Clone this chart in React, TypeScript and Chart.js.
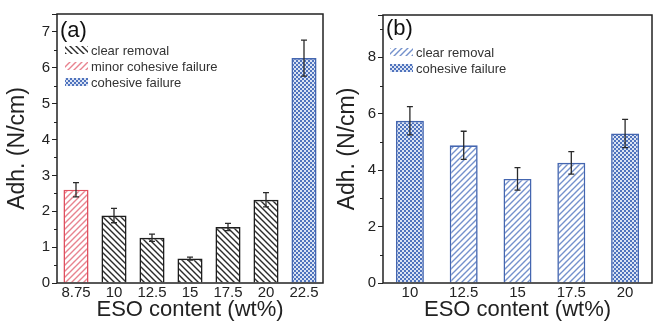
import React, { useEffect, useRef } from "react";
import { Chart, registerables } from "chart.js";

Chart.register(...registerables);

// ---------- data ----------
const catsA = ["8.75", "10", "12.5", "15", "17.5", "20", "22.5"];
const valsA = [2.6, 1.88, 1.26, 0.68, 1.56, 2.32, 6.27];
const errA = [0.2, 0.2, 0.1, 0.04, 0.1, 0.2, 0.5];
const typeA = ["minor", "clear", "clear", "clear", "clear", "clear", "cohesive"];

const catsB = ["10", "12.5", "15", "17.5", "20"];
const valsB = [5.75, 4.88, 3.69, 4.26, 5.3];
const errB = [0.5, 0.5, 0.4, 0.4, 0.5];
const typeB = ["cohesive", "clear", "clear", "clear", "cohesive"];

const legendA = [
  { key: "clear", label: "clear removal" },
  { key: "minor", label: "minor cohesive failure" },
  { key: "cohesive", label: "cohesive failure" },
];
const legendB = [
  { key: "clear", label: "clear removal" },
  { key: "cohesive", label: "cohesive failure" },
];

const FONT = "'Liberation Sans', Arial, sans-serif";

// ---------- patterns ----------
function hatch(color: string, dir: "/" | "\\", size = 6, lw = 1.4) {
  const c = document.createElement("canvas");
  c.width = c.height = size;
  const g = c.getContext("2d")!;
  g.fillStyle = "#ffffff";
  g.fillRect(0, 0, size, size);
  g.strokeStyle = color;
  g.lineWidth = lw;
  g.beginPath();
  if (dir === "/") {
    g.moveTo(0, size); g.lineTo(size, 0);
    g.moveTo(-1, 1); g.lineTo(1, -1);
    g.moveTo(size - 1, size + 1); g.lineTo(size + 1, size - 1);
  } else {
    g.moveTo(0, 0); g.lineTo(size, size);
    g.moveTo(-1, size - 1); g.lineTo(1, size + 1);
    g.moveTo(size - 1, -1); g.lineTo(size + 1, 1);
  }
  g.stroke();
  return g.createPattern(c, "repeat")!;
}
function checker(fg: string, bg: string, cell = 2) {
  const c = document.createElement("canvas");
  c.width = c.height = cell * 2;
  const g = c.getContext("2d")!;
  g.fillStyle = bg;
  g.fillRect(0, 0, cell * 2, cell * 2);
  g.fillStyle = fg;
  g.fillRect(0, 0, cell, cell);
  g.fillRect(cell, cell, cell, cell);
  return g.createPattern(c, "repeat")!;
}

type Style = { fill: CanvasPattern; border: string };

function makeChart(
  canvas: HTMLCanvasElement,
  cats: string[],
  vals: number[],
  errs: number[],
  types: string[],
  styles: Record<string, Style>,
  legend: { key: string; label: string }[],
  panel: string,
  cfg: {
    ymax: number; step: number; minor: number; barPct: number;
    left: number; right: number; top: number; bottom: number;
    legendX: number; legendY: number; legendDy: number; panelX: number; panelY: number;
  }
) {
  const decor = {
    id: "decor",
    afterDatasetsDraw(chart: any) {
      const ctx = chart.ctx as CanvasRenderingContext2D;
      const ys = chart.scales.y;
      const meta = chart.getDatasetMeta(0);
      // error bars
      ctx.save();
      ctx.strokeStyle = "#2a2a2a";
      ctx.lineWidth = 1.3;
      meta.data.forEach((bar: any, i: number) => {
        const x = bar.x;
        const yt = ys.getPixelForValue(vals[i] + errs[i]);
        const yb = ys.getPixelForValue(vals[i] - errs[i]);
        ctx.beginPath();
        ctx.moveTo(x, yt); ctx.lineTo(x, yb);
        ctx.moveTo(x - 3, yt); ctx.lineTo(x + 3, yt);
        ctx.moveTo(x - 3, yb); ctx.lineTo(x + 3, yb);
        ctx.stroke();
      });
      // frame
      const a = chart.chartArea;
      ctx.strokeStyle = "#222";
      ctx.lineWidth = 1.5;
      ctx.strokeRect(a.left, a.top, a.right - a.left, a.bottom - a.top);
      // minor ticks
      ctx.lineWidth = 1;
      for (let v = cfg.minor; v < cfg.ymax; v += cfg.step) {
        const y = Math.round(ys.getPixelForValue(v)) + 0.5;
        ctx.beginPath();
        ctx.moveTo(a.left - 3, y); ctx.lineTo(a.left, y);
        ctx.stroke();
      }
      // panel label
      ctx.fillStyle = "#111";
      ctx.font = `22px ${FONT}`;
      ctx.textBaseline = "middle";
      ctx.textAlign = "left";
      ctx.fillText(panel, cfg.panelX, cfg.panelY);
      // legend
      ctx.font = `13px ${FONT}`;
      legend.forEach((l, i) => {
        const y = cfg.legendY + i * cfg.legendDy;
        ctx.fillStyle = styles[l.key].fill;
        ctx.fillRect(cfg.legendX, y - 4, 23, 8);
        ctx.fillStyle = "#333";
        ctx.fillText(l.label, cfg.legendX + 26, y + 1);
      });
      ctx.restore();
    },
  };

  return new Chart(canvas, {
    type: "bar",
    data: {
      labels: cats,
      datasets: [
        {
          data: vals,
          backgroundColor: types.map((t) => styles[t].fill) as any,
          borderColor: types.map((t) => styles[t].border),
          borderWidth: 1.6,
          barPercentage: cfg.barPct,
          categoryPercentage: 1,
        },
      ],
    },
    options: {
      animation: false,
      responsive: false,
      devicePixelRatio: 1,
      layout: { padding: { top: cfg.top, right: cfg.right, left: 0, bottom: 0 } },
      plugins: { legend: { display: false }, tooltip: { enabled: false } },
      scales: {
        x: {
          grid: { display: false, drawTicks: false },
          border: { display: false },
          ticks: { color: "#222", font: { family: FONT, size: 15 }, padding: 1, maxRotation: 0 },
          title: {
            display: true, text: "ESO content (wt%)", color: "#222",
            font: { family: FONT, size: 22 }, padding: { top: 0, bottom: 4 },
          },
          afterFit: (s: any) => { s.height = cfg.bottom; },
        },
        y: {
          min: 0, max: cfg.ymax,
          grid: { drawOnChartArea: false, drawTicks: true, tickLength: 5, color: "#222", tickColor: "#222" },
          border: { display: false },
          ticks: {
            stepSize: cfg.step, color: "#222", font: { family: FONT, size: 15 }, padding: 2,
            callback: (v: any) => (Number(v) % cfg.step === 0 && Number(v) <= cfg.ymax - 0.01 ? String(v) : ""),
          },
          title: {
            display: true, text: "Adh. (N/cm)", color: "#222",
            font: { family: FONT, size: 23 }, padding: { top: 4, bottom: 0 },
          },
          afterFit: (s: any) => { s.width = cfg.left; },
        },
      },
    },
    plugins: [decor],
  } as any);
}

export default function App() {
  const refA = useRef<HTMLCanvasElement>(null);
  const refB = useRef<HTMLCanvasElement>(null);

  useEffect(() => {
    const blue = "#4466b0";
    const stylesA: Record<string, Style> = {
      clear: { fill: hatch("#2b2b2b", "\\"), border: "#1e1e1e" },
      minor: { fill: hatch("#e8838f", "/"), border: "#e0505f" },
      cohesive: { fill: checker("#4f73bd", "#dbe3f3"), border: blue },
    };
    const stylesB: Record<string, Style> = {
      clear: { fill: hatch("#7491cc", "/"), border: blue },
      cohesive: { fill: checker("#4f73bd", "#dbe3f3"), border: blue },
    };
    const a = makeChart(refA.current!, catsA, valsA, errA, typeA, stylesA, legendA, "(a)", {
      ymax: 7.5, step: 1, minor: 0.5, barPct: 0.66,
      left: 57, right: 7, top: 14, bottom: 44,
      legendX: 65, legendY: 50, legendDy: 16, panelX: 60, panelY: 31,
    });
    const b = makeChart(refB.current!, catsB, valsB, errB, typeB, stylesB, legendB, "(b)", {
      ymax: 9.5, step: 2, minor: 1, barPct: 0.52,
      left: 53, right: 1, top: 15, bottom: 44,
      legendX: 60, legendY: 52, legendDy: 16, panelX: 56, panelY: 29,
    });
    return () => { a.destroy(); b.destroy(); };
  }, []);

  return (
    <div style={{ position: "absolute", left: 0, top: 0, width: 653, height: 327, background: "#fff" }}>
      <canvas ref={refA} width={330} height={327} style={{ position: "absolute", left: 0, top: 0 }} />
      <canvas ref={refB} width={323} height={327} style={{ position: "absolute", left: 330, top: 0 }} />
    </div>
  );
}
